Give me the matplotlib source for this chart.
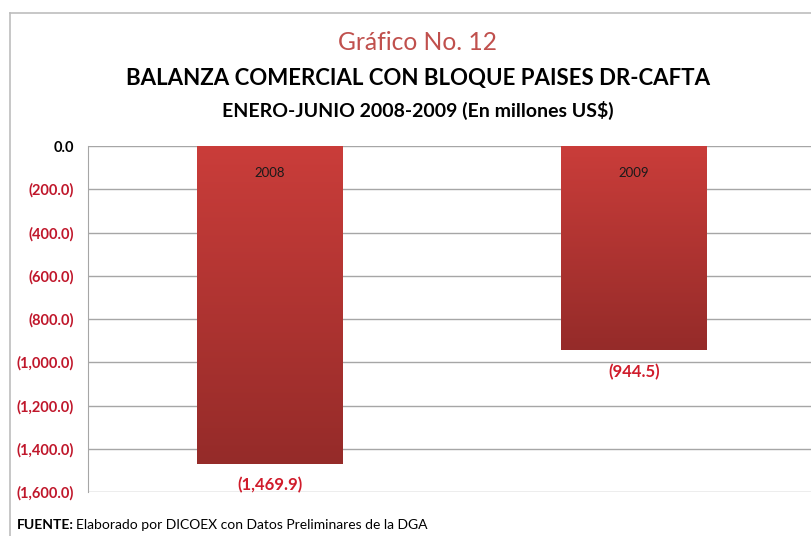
import numpy as np
import matplotlib
matplotlib.use("Agg")
import matplotlib.pyplot as plt
from matplotlib.lines import Line2D
from matplotlib.colors import LinearSegmentedColormap

plt.rcParams['font.family'] = ['Lato', 'DejaVu Sans']

years = ["2008", "2009"]
balance = [-1469.9, -944.5]
yticks = [0, -200, -400, -600, -800, -1000, -1200, -1400, -1600]

W, H = 811, 536
fig = plt.figure(figsize=(W / 100, H / 100), dpi=100)

# outer frame (left and top only visible)
fig.add_artist(Line2D([10 / W, 10 / W], [0, 1 - 13 / H], color="#bdbdbd", lw=1.2))
fig.add_artist(Line2D([10 / W, 1], [1 - 13 / H, 1 - 13 / H], color="#bdbdbd", lw=1.2))

# axes: x from 88px to 816px, y from 146px to 492px
ax = fig.add_axes([88 / W, 1 - 492 / H, 728 / W, 346 / H])
x = np.arange(len(years))
bars = ax.bar(x, balance, width=0.4, color="none", zorder=3)

cmap = LinearSegmentedColormap.from_list("red", ["#ca3d3a", "#952b29"])
grad = np.linspace(0, 1, 256).reshape(-1, 1)
for b in bars:
    x0, w = b.get_x(), b.get_width()
    y1 = b.get_height()
    ax.imshow(grad, cmap=cmap, aspect="auto", extent=[x0, x0 + w, y1, 0],
              zorder=3, interpolation="bicubic")

ax.set_xlim(-0.5, 1.5)
ax.set_ylim(-1600, 0)
ax.set_yticks(yticks)
labels = ["0.0"] + ["({:,.1f})".format(-v) for v in yticks[1:]]
ax.set_yticklabels(labels, fontsize=10.5, fontweight="bold")
for t, v in zip(ax.get_yticklabels(), yticks):
    t.set_color("black" if v == 0 else "#c0172b")
ax.tick_params(axis="y", length=0, pad=10)
ax.set_xticks([])
ax.grid(axis="y", color="#a6a6a6", lw=1, zorder=0)
for s in ["top", "right", "bottom"]:
    ax.spines[s].set_visible(False)
ax.spines["left"].set_color("#a6a6a6")

for xi, v, yr in zip(x, balance, years):
    ax.text(xi, -125, yr, ha="center", va="center", fontsize=9.5, color="#1a1a1a", zorder=4)
    ax.text(xi, v - 100, "({:,.1f})".format(-v), ha="center", va="center",
            fontsize=12, fontweight="bold", color="#d01c2b", zorder=4)

fig.text(418 / W, 1 - 43 / H, "Gráfico No. 12", ha="center", va="center",
         fontsize=17.7, color="#c0504d")
fig.text(418 / W, 1 - 78 / H, "BALANZA COMERCIAL CON BLOQUE PAISES DR-CAFTA",
         ha="center", va="center", fontsize=16, fontweight="bold", color="black")
fig.text(418 / W, 1 - 110 / H, "ENERO-JUNIO 2008-2009 (En millones US$)",
         ha="center", va="center", fontsize=14, fontweight="bold", color="black")

t1 = fig.text(17 / W, 1 - 525 / H, "FUENTE:", ha="left", va="center",
              fontsize=10, fontweight="bold")
fig.canvas.draw()
bb = t1.get_window_extent()
fig.text((bb.x1 + 2) / W, 1 - 525 / H, "Elaborado por DICOEX con Datos Preliminares de la DGA",
         ha="left", va="center", fontsize=10)

fig.savefig("out.png", dpi=100)
